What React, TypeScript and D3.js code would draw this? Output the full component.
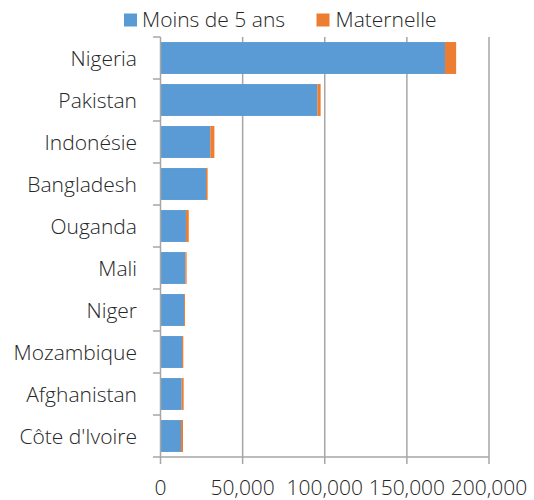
import React from "react";
import * as d3 from "d3";

const countries = [
  "Nigeria",
  "Pakistan",
  "Indonésie",
  "Bangladesh",
  "Ouganda",
  "Mali",
  "Niger",
  "Mozambique",
  "Afghanistan",
  "Côte d'Ivoire",
];
const moinsDe5Ans = [173200, 95500, 30300, 27700, 15500, 15100, 14300, 13100, 12900, 12500];
const maternelle = [6800, 2000, 2500, 1000, 1700, 800, 600, 800, 1200, 1200];
const xTicks = [0, 50000, 100000, 150000, 200000];
const seriesNames = ["Moins de 5 ans", "Maternelle"];
const colors = ["#5b9bd5", "#ed7d31"];

const App = () => {
  const width = 534;
  const height = 500;
  const left = 160.5;
  const right = 489;
  const top = 37;
  const bottom = 457;
  const font = "'Open Sans', sans-serif";
  const gridColor = "#a6a6a6";
  const textColor = "#262626";

  const x = d3.scaleLinear().domain([0, 200000]).range([left, right]);
  const y = d3.scaleBand().domain(countries).range([top, bottom]).paddingInner(0.24).paddingOuter(0.12);
  const step = y.step();
  const fmt = d3.format(",");

  return (
    <svg width={width} height={height} style={{ position: "absolute", left: 0, top: 0 }}>
      {/* legend */}
      <g fontFamily={font} fontSize={21} fontWeight={300} fill={textColor}>
        <rect x={124} y={13.5} width={13} height={13} fill={colors[0]} />
        <text x={142} y={27}>{seriesNames[0]}</text>
        <rect x={316.5} y={13.5} width={13} height={13} fill={colors[1]} />
        <text x={335.5} y={27}>{seriesNames[1]}</text>
      </g>
      {/* grid */}
      {xTicks.slice(1).map((t) => (
        <line key={t} x1={x(t)} x2={x(t)} y1={top} y2={bottom} stroke={gridColor} strokeWidth={1.5} />
      ))}
      {/* bars */}
      {countries.map((c, i) => (
        <g key={c}>
          <rect x={x(0)} y={y(c)} width={x(moinsDe5Ans[i]) - x(0)} height={y.bandwidth()} fill={colors[0]} />
          <rect
            x={x(moinsDe5Ans[i])}
            y={y(c)}
            width={x(moinsDe5Ans[i] + maternelle[i]) - x(moinsDe5Ans[i])}
            height={y.bandwidth()}
            fill={colors[1]}
          />
        </g>
      ))}
      {/* axes */}
      <line x1={left} x2={left} y1={top} y2={bottom} stroke={gridColor} strokeWidth={1.5} />
      <line x1={left} x2={right} y1={bottom} y2={bottom} stroke={gridColor} strokeWidth={1.5} />
      {d3.range(countries.length + 1).map((i) => (
        <line key={i} x1={153} x2={left} y1={top + i * step} y2={top + i * step} stroke={gridColor} strokeWidth={1.5} />
      ))}
      {xTicks.map((t) => (
        <line key={t} x1={x(t)} x2={x(t)} y1={bottom} y2={bottom + 7} stroke={gridColor} strokeWidth={1.5} />
      ))}
      <g fontFamily={font} fontSize={21} fontWeight={300} fill={textColor}>
        {countries.map((c) => (
          <text key={c} x={137} y={(y(c) ?? 0) + y.bandwidth() / 2} dy="0.36em" textAnchor="end">
            {c}
          </text>
        ))}
        {xTicks.map((t) => (
          <text key={t} x={x(t)} y={495} textAnchor="middle">
            {fmt(t)}
          </text>
        ))}
      </g>
    </svg>
  );
};

export default App;
